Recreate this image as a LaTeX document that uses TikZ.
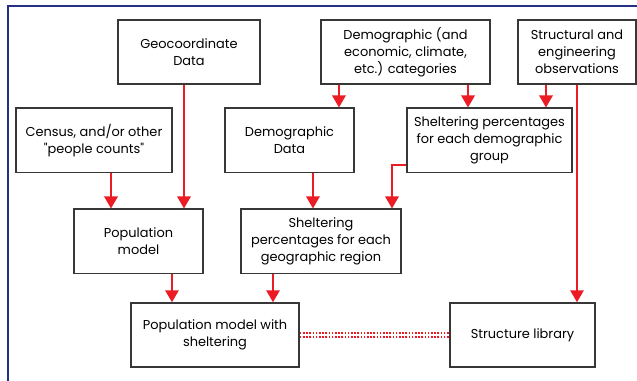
\documentclass[tikz,border=0pt]{standalone}
\usepackage{fontspec}
\setmainfont{Poppins}
\usepackage{xcolor}
\usetikzlibrary{arrows.meta,positioning}
\definecolor{flowred}{RGB}{236,28,36}
\definecolor{framenavy}{RGB}{36,48,130}
\definecolor{boxgray}{RGB}{55,55,55}

\begin{document}
\begin{tikzpicture}[x=0.75pt, y=-0.75pt, font=\fontsize{9.7}{12.6}\selectfont]
    \tikzstyle{box} = [rectangle, draw=boxgray, line width=1.1pt, align=center, inner sep=2pt, minimum height=48.4pt]
    \tikzstyle{line} = [draw=flowred, line width=1.5pt, -{Triangle[width=10pt, length=9pt]}]
    \tikzstyle{dots} = [draw=flowred, line width=1.3pt, dash pattern=on 1.3pt off 1.1pt]

    \useasboundingbox (0,0) rectangle (637,381);
    \draw [framenavy, line width=1.2pt] (8,390) -- (8,6) -- (640,6);

    \node [box, minimum width=106.5pt, minimum height=48pt] (geo) at (189,52) {Geocoordinate\\Data};
    \node [box, minimum width=126.8pt, minimum height=48pt] (cats) at (405.5,52) {Demographic (and\\economic, climate,\\etc.) categories};
    \node [box, minimum width=88.5pt, minimum height=48pt] (struct) at (577,52) {Structural and\\engineering\\observations};

    \node [box, minimum width=117pt] (census) at (94,140.5) {Census, and/or other\\\textquotedbl people counts\textquotedbl};
    \node [box, minimum width=96.8pt] (demdata) at (289.5,140.5) {Demographic\\Data};
    \node [box, minimum width=123.8pt] (shdemo) at (489.5,140.5) {Sheltering percentages\\for each demographic\\group};

    \node [box, minimum width=96.8pt] (pop) at (138.5,241.5) {Population\\model};
    \node [box, minimum width=120pt] (shgeo) at (321,241.5) {Sheltering\\percentages for each\\geographic region};

    \node [box, minimum width=126pt, minimum height=48pt] (pms) at (215,335) {Population model with\\sheltering};
    \node [box, minimum width=108.8pt, minimum height=48pt] (lib) at (522.5,335) {Structure library};

    \path [line] ([xshift=-3.75pt]geo.south) -- ([xshift=-3.75pt]geo.south |- pop.north);
    \path [line] ([xshift=12.75pt]census.south) -- ([xshift=12.75pt]census.south |- pop.north);
    \path [line] ([xshift=-49.9pt]cats.south) -- ([xshift=-49.9pt]cats.south |- demdata.north);
    \path [line] ([xshift=46.9pt]cats.south) -- ([xshift=46.9pt]cats.south |- shdemo.north);
    \path [line] ([xshift=-23.25pt]struct.south) -- ([xshift=-23.25pt]struct.south |- shdemo.north);
    \path [line] (struct.south) -- (struct.south |- lib.north);
    \path [line] ([xshift=17.6pt]demdata.south) -- ([xshift=17.6pt]demdata.south |- shgeo.north);
    \path [line] ([yshift=-18.4pt]shdemo.west) -| ([xshift=53.25pt]shgeo.north);
    \path [line] ([xshift=25.1pt]pop.south) -- ([xshift=25.1pt]pop.south |- pms.north);
    \path [line] ([xshift=-36pt]shgeo.south) -- ([xshift=-36pt]shgeo.south |- pms.north);

    % double dotted link
    \path [dots] ([yshift=1.5pt]pms.east) -- ([yshift=1.5pt]lib.west);
    \path [dots] ([yshift=-1.5pt]pms.east) -- ([yshift=-1.5pt]lib.west);
\end{tikzpicture}
\end{document}
